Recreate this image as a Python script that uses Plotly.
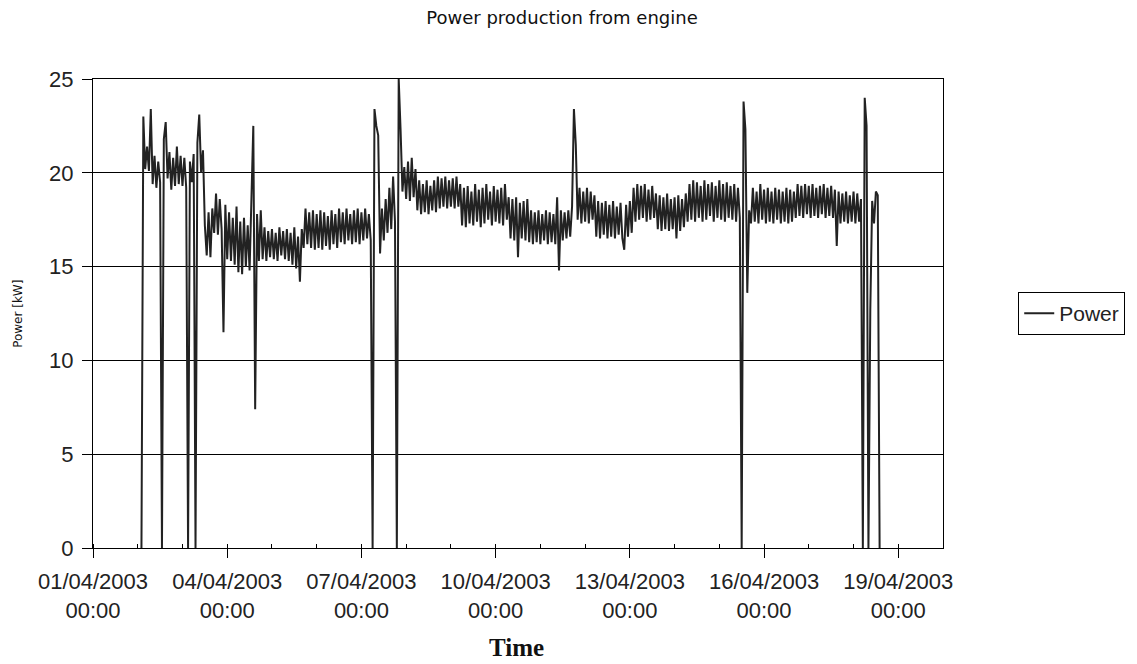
import pandas as pd
import plotly.graph_objects as go

# Leituras horarias de potencia [kW], a partir de 02/04/2003 02:00
start_time = '2003-04-02 02:00'
power_kw = [
    0, 23.0, 20.2, 21.4, 20.1, 23.4, 19.4, 20.9, 19.2, 20.6, 19.5, 0,
    21.8, 22.7, 19.7, 21.1, 19.1, 20.8, 19.3, 21.4, 19.4, 20.9,
    # 03/04
    19.3, 20.8, 19.2, 0, 20.6, 19.5, 21.0, 0, 21.6, 23.1, 20.0, 21.2,
    17.2, 15.6, 17.9, 15.5, 18.1, 16.8, 18.9, 16.7, 18.6, 17.0, 11.5, 18.3,
    # 04/04
    15.4, 17.9, 15.3, 17.6, 15.1, 18.2, 14.7, 17.4, 14.6, 17.6, 15.0, 17.2,
    14.8, 18.1, 22.5, 7.4, 17.8, 15.3, 18.0, 15.4, 17.1, 15.3, 16.9, 15.5,
    # 05/04
    17.0, 15.4, 16.8, 15.3, 17.1, 15.6, 16.9, 15.4, 17.0, 15.3, 16.8, 15.1,
    17.1, 14.9, 16.6, 14.2, 17.0, 16.0, 18.1, 16.2, 17.9, 16.0, 18.0, 15.9,
    # 06/04
    17.8, 16.0, 18.0, 15.9, 17.9, 16.1, 17.7, 15.9, 18.0, 16.2, 17.8, 16.0,
    18.1, 16.3, 17.9, 16.2, 18.1, 16.4, 17.8, 16.2, 18.0, 16.3, 18.1, 16.2,
    # 07/04
    17.9, 16.4, 18.1, 16.5, 17.8, 16.4, 0, 23.4, 22.5, 22.0, 15.7, 18.1,
    16.4, 18.6, 16.8, 19.2, 17.0, 19.8, 17.4, 0, 25.0, 22.3, 19.0, 20.3,
    # 08/04
    18.6, 20.6, 18.5, 20.8, 18.7, 20.2, 18.0, 19.6, 17.8, 19.4, 17.9, 19.6,
    17.8, 19.3, 18.0, 19.6, 17.9, 19.8, 18.1, 19.7, 18.2, 19.8, 18.1, 19.6,
    # 09/04
    18.2, 19.7, 18.1, 19.8, 18.2, 19.4, 17.2, 19.2, 17.1, 19.3, 17.3, 19.0,
    17.2, 19.4, 17.4, 19.1, 17.1, 19.2, 17.3, 19.4, 17.5, 19.0, 17.2, 19.3,
    # 10/04
    17.4, 19.1, 17.3, 19.2, 17.2, 19.4, 17.5, 18.7, 16.5, 18.6, 16.4, 18.7,
    15.5, 18.4, 16.5, 18.5, 16.4, 18.6, 16.3, 18.0, 16.2, 17.9, 16.3, 18.0,
    # 11/04
    16.2, 17.8, 16.4, 18.0, 16.2, 17.9, 16.3, 17.8, 16.2, 18.7, 14.8, 18.0,
    16.4, 17.9, 16.5, 18.0, 16.6, 18.2, 23.4, 21.5, 17.5, 19.2, 17.3, 19.0,
    # 12/04
    17.4, 19.2, 17.3, 19.0, 17.5, 18.8, 16.6, 18.5, 16.5, 18.4, 16.7, 18.5,
    16.5, 18.3, 16.6, 18.5, 16.5, 18.2, 16.7, 18.4, 16.5, 15.9, 18.3, 16.6,
    # 13/04
    18.5, 16.8, 19.2, 17.4, 19.4, 17.5, 19.3, 17.6, 19.4, 17.4, 19.1, 17.5,
    19.3, 17.6, 18.9, 17.0, 18.8, 16.9, 18.7, 17.0, 18.9, 16.9, 18.6, 17.0,
    # 14/04
    18.7, 16.5, 18.8, 16.9, 18.6, 17.1, 18.9, 17.4, 19.4, 17.5, 19.6, 17.4,
    19.5, 17.6, 19.3, 17.4, 19.6, 17.5, 19.4, 17.7, 19.5, 17.4, 19.3, 17.6,
    # 15/04
    19.6, 17.5, 19.4, 17.4, 19.5, 17.6, 19.3, 17.5, 19.4, 17.4, 19.2, 17.6,
    0, 23.8, 22.3, 13.6, 18.0, 17.3, 19.2, 17.4, 19.0, 17.3, 19.4, 17.5,
    # 16/04
    19.1, 17.3, 19.2, 17.4, 19.0, 17.3, 19.2, 17.5, 19.1, 17.3, 19.0, 17.4,
    19.2, 17.3, 19.1, 17.4, 19.0, 17.6, 19.4, 17.7, 19.3, 17.6, 19.4, 17.8,
    # 17/04
    19.3, 17.6, 19.4, 17.7, 19.2, 17.6, 19.3, 17.8, 19.4, 17.6, 19.2, 17.7,
    19.3, 17.6, 19.1, 16.1, 19.0, 17.3, 18.9, 17.4, 19.0, 17.3, 18.8, 17.4,
    # 18/04
    19.0, 17.3, 18.9, 17.4, 18.6, 0, 24.0, 22.5, 0, 12.7, 18.5, 17.3,
    19.0, 18.8, 0,
]

tick_dates = ['2003-04-01', '2003-04-04', '2003-04-07', '2003-04-10',
              '2003-04-13', '2003-04-16', '2003-04-19']
tick_labels = ['01/04/2003<br>00:00', '04/04/2003<br>00:00', '07/04/2003<br>00:00',
               '10/04/2003<br>00:00', '13/04/2003<br>00:00', '16/04/2003<br>00:00',
               '19/04/2003<br>00:00']
y_ticks = [0, 5, 10, 15, 20, 25]

times = pd.date_range(start=start_time, periods=len(power_kw), freq='h')

# a pagina tem 8px de margem no body, por isso a figura e 8px menor
W, H = 1129, 656
plot_w, plot_h = 854, 469

fig = go.Figure()
fig.add_trace(go.Scatter(
    x=times,
    y=power_kw,
    mode='lines',
    name='Power',
    line=dict(color='#222222', width=2),
))

fig.update_layout(
    width=W,
    height=H,
    margin=dict(l=85, r=W - 85 - plot_w, t=71, b=H - 71 - plot_h),
    paper_bgcolor='white',
    plot_bgcolor='white',
    font=dict(family='Liberation Sans, Arial, sans-serif', color='#222222'),
    title=dict(
        text='Power production from engine',
        x=554 / W, xanchor='center',
        y=1 - 10 / H, yanchor='middle',
        font=dict(family='DejaVu Sans, sans-serif', size=18, color='#111111'),
    ),
    showlegend=True,
    legend=dict(
        x=1.0885, xanchor='left',
        y=0.5, yanchor='middle',
        bordercolor='black', borderwidth=1,
        bgcolor='white',
        font=dict(size=21, color='#222222'),
        itemwidth=30,
        tracegroupgap=0,
    ),
)

fig.update_xaxes(
    type='date',
    range=['2003-04-01', '2003-04-20'],
    tickvals=tick_dates,
    ticktext=tick_labels,
    tickfont=dict(size=22),
    ticks='outside', ticklen=9, tickcolor='black',
    ticklabelstandoff=5,
    minor=dict(dtick=86400000, tick0='2003-04-01', ticks='inside',
               ticklen=4, tickcolor='black', showgrid=False),
    showgrid=False,
    showline=True, linecolor='black', linewidth=1, mirror=True,
    zeroline=False,
)

fig.update_yaxes(
    range=[0, 25],
    tickvals=y_ticks,
    tickfont=dict(size=22),
    ticks='outside', ticklen=10, tickcolor='black',
    ticklabelstandoff=4,
    showgrid=True, gridcolor='black', gridwidth=1,
    showline=True, linecolor='black', linewidth=1, mirror=True,
    zeroline=False,
)

# titulos dos eixos como anotacoes para posicionar igual ao original
fig.add_annotation(
    text='Power [kW]', textangle=-90,
    xref='paper', yref='paper',
    x=-76 / plot_w, y=0.5,
    xanchor='center', yanchor='middle',
    showarrow=False,
    font=dict(family='DejaVu Sans, sans-serif', size=12, color='#111111'),
)
fig.add_annotation(
    text='<b>Time</b>',
    xref='paper', yref='paper',
    x=(510 - 85) / plot_w, y=-(639 - 540) / plot_h,
    xanchor='center', yanchor='middle',
    showarrow=False,
    font=dict(family='Liberation Serif, Times New Roman, serif', size=25, color='#111111'),
)

fig.write_html('out.html')
